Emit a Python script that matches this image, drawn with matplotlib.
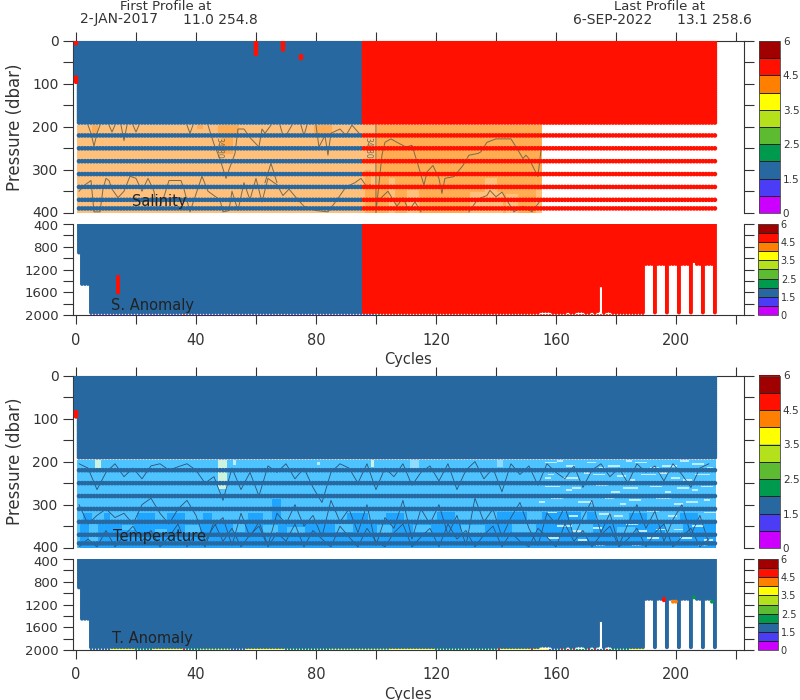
import numpy as np
import matplotlib
matplotlib.use("Agg")
import matplotlib.pyplot as plt
from matplotlib.cm import ScalarMappable
from matplotlib.colors import BoundaryNorm, ListedColormap
from matplotlib.transforms import ScaledTranslation

# flag colour scale shared by all four panels
flag_bounds = [0, 1, 1.5, 2, 2.5, 3, 3.5, 4, 4.5, 5, 6]
flag_colors = ['#CC00FF', '#4A3DF5', '#2868A0', '#009A4E', '#5CBB30',
               '#B5E01C', '#FFFF00', '#FF8000', '#FF1000', '#A00000']
flag_ticks = [0, 1.5, 2.5, 3.5, 4.5, 6]
GOOD, BAD, EDGE, GREEN, LIME, YELLOW, ORANGE, NAVY = 1.75, 4.75, 1.25, 2.25, 2.75, 3.75, 4.25, 1.75

n_cycles = 214
upper_levels = list(range(0, 195, 5))
sparse_levels = [220, 250, 280, 310, 340, 370, 390]
deep_levels = list(range(400, 1975, 25))

# (first cycle, last cycle + 1, deepest pressure) of the shorter profiles
short_profiles = [(0, 1, 400), (1, 2, 955), (2, 5, 1500), (175, 176, 1510),
                  (190, 214, 1150), (206, 207, 1085)]
full_depth_strips = [193, 197, 201, 205, 209, 213]
notch_cycles = [155, 156, 157, 158, 164, 167, 168, 169, 172, 174, 177, 178]

# isolated flags: cycle, top pressure, bottom pressure, flag
sal_upper_flags = [(0, 0, 5, BAD), (0, 85, 95, BAD), (60, 0, 33, BAD), (69, 0, 20, BAD), (75, 35, 40, BAD)]
temp_upper_flags = [(0, 85, 95, BAD)]
sal_deep_flags = [(14, 1310, 1620, BAD)]
temp_deep_flags = [(196, 1100, 1125, BAD), (206, 1060, 1075, GREEN), (199, 1140, 1150, ORANGE),
                   (200, 1140, 1150, ORANGE), (212, 1140, 1150, GREEN)]
sal_flip_cycle = 96

# thin strip along 2000 dbar: first cycle, last cycle + 1, flag
sal_bottom_strip = [(5, 36, EDGE), (36, 37, BAD), (37, 100, EDGE), (100, 102, GREEN), (102, 190, BAD)]
temp_bottom_strip = [(5, 12, GOOD), (12, 20, YELLOW), (20, 26, GREEN), (26, 36, YELLOW), (36, 37, BAD),
                     (37, 42, GREEN), (42, 52, LIME), (52, 57, NAVY), (57, 70, YELLOW), (70, 85, GREEN),
                     (85, 105, LIME), (105, 120, YELLOW), (120, 141, GREEN), (141, 142, BAD),
                     (142, 152, YELLOW), (152, 153, BAD), (153, 158, YELLOW), (158, 162, NAVY),
                     (162, 163, BAD), (163, 164, GREEN), (164, 165, BAD), (165, 166, GREEN), (166, 167, BAD),
                     (167, 171, GREEN), (171, 172, BAD), (172, 173, GREEN), (173, 174, BAD), (174, 177, NAVY),
                     (177, 178, BAD), (178, 185, GREEN), (185, 190, YELLOW)]

# background fields below 196 dbar
field_edges_p = list(range(196, 404, 4))
sal_field_colors = ['#FFC07C', '#FFAC52']
sal_field_end = 155
# first cycle, last cycle, top pressure, bottom pressure, shade
sal_patches = [(96, 155, 196, 400, 1), (5, 7, 196, 216, 1), (40, 42, 196, 205, 1), (47, 54, 196, 220, 1),
               (48, 52, 220, 262, 1), (79, 85, 196, 216, 1), (96, 100, 196, 300, 0), (98, 100, 300, 345, 0),
               (104, 106, 320, 400, 0), (110, 114, 350, 400, 0), (131, 142, 352, 400, 0),
               (136, 140, 320, 352, 0), (143, 147, 356, 400, 0), (153, 155, 350, 400, 0)]

temp_field_end = 213
temp_field_colors = ['#4DC3FF', '#1FA5FF', '#8FDCFF', '#CDF3DE', '#BDEBFF']
temp_patches = [(1, 213, 344, 400, 1),
                (2, 5, 320, 334, 1), (9, 11, 320, 334, 1), (20, 26, 320, 334, 1), (30, 36, 320, 334, 1),
                (42, 45, 320, 334, 1), (57, 62, 320, 334, 1), (65, 68, 290, 334, 1), (90, 97, 320, 334, 1),
                (103, 109, 320, 334, 1), (120, 126, 316, 334, 1), (140, 150, 318, 334, 1), (155, 168, 316, 339, 1),
                (170, 173, 316, 339, 1), (184, 190, 320, 339, 1), (201, 207, 322, 339, 1),
                (4, 7, 345, 390, 0), (15, 19, 350, 360, 0), (26, 30, 356, 366, 0), (36, 41, 350, 370, 0),
                (52, 56, 345, 362, 0), (62, 67, 350, 375, 0), (70, 76, 352, 372, 0), (86, 92, 345, 365, 0),
                (100, 105, 350, 372, 0), (112, 118, 348, 362, 0), (128, 136, 350, 372, 0),
                (145, 153, 346, 364, 0), (165, 172, 346, 368, 0), (180, 186, 352, 372, 0), (196, 202, 346, 370, 0),
                (6, 8, 196, 214, 3), (47, 50, 196, 262, 3), (80, 81, 200, 206, 4), (98, 99, 196, 210, 3),
                (52, 53, 196, 206, 4), (111, 114, 196, 214, 2), (140, 142, 196, 212, 2)]
# pale streaks after cycle 155: first cycle, last cycle, pressure
temp_streaks = [(156, 160, 204), (163, 166, 212), (170, 173, 204), (177, 181, 210), (186, 190, 204), (195, 200, 212),
                (205, 209, 206), (157, 159, 232), (162, 167, 238), (172, 176, 230), (180, 183, 236), (188, 193, 232),
                (198, 201, 238), (206, 211, 230), (156, 161, 258), (165, 168, 264), (173, 177, 256), (182, 187, 262),
                (191, 195, 258), (200, 204, 264), (208, 212, 258), (158, 162, 288), (167, 172, 294), (176, 179, 286),
                (184, 188, 292), (193, 198, 288), (203, 207, 294), (157, 160, 318), (174, 178, 322), (190, 194, 316),
                (209, 213, 320), (160, 165, 350), (172, 175, 356), (183, 187, 348), (193, 196, 358), (205, 209, 352),
                (157, 161, 378), (167, 170, 382), (178, 182, 376), (190, 194, 380), (201, 205, 378), (209, 212, 384),
                (160, 162, 200), (174, 176, 216), (183, 185, 200), (191, 194, 216), (201, 204, 200), (210, 212, 214),
                (156, 158, 240), (169, 171, 226), (184, 186, 242), (194, 197, 226), (202, 205, 244), (163, 165, 268),
                (178, 181, 270), (196, 198, 270), (205, 207, 266), (154, 156, 296), (181, 183, 298), (199, 202, 300),
                (209, 211, 292), (164, 167, 326), (179, 182, 326), (197, 200, 328), (165, 168, 362), (187, 190, 364),
                (199, 202, 360), (162, 164, 392), (173, 176, 394), (185, 188, 394), (196, 199, 392), (207, 210, 394)]

# contour traces, read by eye
sal_line_cycles = [4, 5, 6, 7, 8, np.nan, 11, 12, 13, np.nan, 15, 16, 17, np.nan, 19, 20, 21, np.nan,
                   37, 38, 39, np.nan, 44, 46, 48, 50, 51, 53, 54, 56, 58, 61, 62, 63, 65, np.nan,
                   63, 65, 67, np.nan, 68, 69, 70, 72, np.nan, 75, 76, 77, np.nan, 80, 81, 83, 84, 85, 88, 90, 92, 95,
                   np.nan,
                   1, 3, 5, 6, 8, 9, 10, 11, 12, 14, 16, 18, 20, 22, 24, 26, 27, 29, 31, 35, 36, 38, 42, 44, 46, 48,
                   49, 51, 52, 54, 56, 58, 60, 62, 64, 67, 69, 71, 74, 76, 80, 84, 87, 90, 93, 95, 97, 98,
                   np.nan,
                   100, 100, 102, 103, 105, 107, 110, 112, 114, 116, 117, 119, 121, 122, 123, 126, 129, 131, 134, 135,
                   137, 140, 143, 145, 147, 149, 150, 151, 154, 155,
                   np.nan,
                   101, 104, 107, 109, 111, 113, 115, np.nan, 131, 134, 137, 138, 140, 142, 144, 146, 149, 152, 155]
sal_line_press = [196, 215, 245, 215, 196, np.nan, 196, 212, 196, np.nan, 196, 232, 196, np.nan, 196, 212, 196, np.nan,
                  196, 215, 196, np.nan, 196, 240, 275, 320, 300, 262, 205, 205, 225, 247, 205, 215, 196, np.nan,
                  330, 285, 330, np.nan, 196, 220, 220, 196, np.nan, 196, 220, 196, np.nan, 196, 247, 220, 266, 215,
                  205, 220, 196, 220,
                  np.nan,
                  350, 335, 325, 398, 398, 345, 320, 325, 345, 365, 350, 315, 320, 350, 320, 350, 395, 370, 325, 325,
                  345, 398, 315, 350, 360, 370, 398, 395, 350, 395, 330, 370, 320, 375, 320, 335, 360, 345, 370, 385,
                  395, 398, 370, 340, 330, 320, 340, 335,
                  np.nan,
                  196, 400, 266, 236, 228, 236, 247, 243, 288, 336, 305, 290, 320, 355, 320, 316, 290, 266, 262, 258,
                  236, 228, 228, 228, 250, 274, 266, 274, 316, 255,
                  np.nan,
                  370, 350, 385, 365, 395, 375, 398, np.nan, 398, 368, 360, 348, 363, 352, 375, 398, 385, 398, 370]

temp_line_cycles = list(range(1, 215, 3))
temp_upper_press = [205, 215, 265, 225, 205, 235, 215, 240, 210, 205, 220, 212, 205, 220, 250, 235, 290, 215,
                    265, 225, 280, 210, 225, 205, 240, 215, 260, 295, 225, 205, 215, 250, 205, 265,
                    215, 235, 205, 255, 225, 210, 245, 205, 265, 220, 200, 240, 215, 270, 205, 230,
                    210, 255, 205, 225, 240, 210, 260, 220, 205, 235, 215, 250, 205, 225, 210, 245,
                    205, 230, 260, 215, 205, 235]
temp_lower_press = [300, 345, 325, 310, 330, 320, 345, 300, 285, 320, 345, 310, 290, 325, 385, 350, 330, 395,
                    320, 375, 340, 395, 320, 345, 300, 350, 325, 375, 290, 340, 310, 365, 300, 395,
                    330, 355, 290, 380, 310, 345, 300, 370, 325, 395, 285, 340, 310, 375, 330, 295,
                    355, 395, 320, 345, 305, 375, 330, 290, 365, 320, 395, 345, 300, 355, 315, 385,
                    335, 300, 370, 325, 390, 340]
temp_bottom_press = [398, 380, 398, 360, 398, 372, 350, 385, 360, 398, 375, 345, 398, 365, 398, 340, 385, 355,
                     398, 370, 350, 398, 365, 385, 345, 398, 360, 380, 398, 350, 375, 398, 355, 385,
                     398, 365, 345, 398, 375, 355, 398, 345, 380, 360, 398, 370, 350, 398, 365, 385,
                     398, 355, 375, 398, 345, 385, 360, 398, 370, 350, 398, 380, 355, 398, 365, 345,
                     398, 375, 355, 398, 380, 398]

x_ticks = list(range(0, 221, 20))
x_labels = ['0', '', '40', '', '80', '', '120', '', '160', '', '200', '']
upper_ticks = list(range(0, 401, 50))
upper_labels = ['0', '', '100', '', '200', '', '300', '', '400']
deep_ticks = list(range(400, 2001, 200))
deep_labels = ['400', '', '800', '', '1200', '', '1600', '', '2000']

TEXT = '#333333'
LINE = '#333333'
plt.rcParams['font.family'] = 'DejaVu Sans'
cmap = ListedColormap(flag_colors)
norm = BoundaryNorm(flag_bounds, cmap.N)

fig = plt.figure(figsize=(8, 7), dpi=100)


def pixel_axes(left, top, right, bottom):
    return fig.add_axes([left / 800, 1 - bottom / 700, (right - left) / 800, (bottom - top) / 700])


def flag_scatter(ax, xs, ys, flags, size):
    flags = np.array(flags)
    order = np.argsort(flags, kind='stable')
    ax.scatter(np.array(xs)[order], np.array(ys)[order], c=flags[order], s=size,
               cmap=cmap, norm=norm, linewidths=0, zorder=4)


def style_axes(ax, ylim, yticks, ylabels, top):
    ax.set_xlim(-1.1, 222.7)
    ax.set_ylim(*ylim)
    ax.set_xticks(x_ticks)
    ax.set_yticks(yticks)
    ax.set_yticklabels(ylabels, fontsize=10 if top else 9.5, color=TEXT)
    ax.tick_params(axis='y', which='both', left=True, right=True, length=7.2, width=0.8, color=LINE, pad=3)
    for name in ax.spines:
        ax.spines[name].set_color(LINE)
        ax.spines[name].set_linewidth(0.8)
    if top:
        ax.xaxis.tick_top()
        ax.spines['bottom'].set_visible(False)
        ax.set_xticklabels([])
    else:
        ax.spines['top'].set_visible(False)
        ax.set_xticklabels(x_labels, fontsize=10.5, color=TEXT)
    ax.tick_params(axis='x', length=6.5, width=0.8, color=LINE, pad=6)
    # pull the two stacked "400" labels a little apart
    edge_label = ax.get_yticklabels()[-1 if top else 0]
    nudge = ScaledTranslation(0, (1.5 if top else -1.5) / 100, fig.dpi_scale_trans)
    edge_label.set_transform(edge_label.get_transform() + nudge)


def add_colorbar(left, top, right, bottom, fontsize):
    cax = pixel_axes(left, top, right, bottom)
    cb = fig.colorbar(ScalarMappable(norm=norm, cmap=cmap), cax=cax, spacing='uniform',
                      drawedges=True, ticks=flag_ticks)
    cb.ax.set_yticklabels([str(t) for t in flag_ticks], fontsize=fontsize, color=TEXT)
    cb.ax.tick_params(length=0, pad=2)
    cb.dividers.set_color('#222222')
    cb.dividers.set_linewidth(0.7)
    cb.outline.set_edgecolor('#444444')
    cb.outline.set_linewidth(0.6)
    cb.minorticks_off()


def upper_points(flip_cycle, flags):
    xs, ys, fs = [], [], []
    for c in range(n_cycles):
        base = BAD if flip_cycle is not None and c >= flip_cycle else GOOD
        for p in upper_levels:
            if c == 0 and p > 90:
                continue
            xs.append(c), ys.append(p), fs.append(base)
        if c > 0:
            for p in sparse_levels:
                xs.append(c), ys.append(p), fs.append(base)
    for c, p0, p1, f in flags:
        for p in upper_levels:
            if p0 <= p <= p1:
                xs.append(c), ys.append(p), fs.append(f)
    return xs, ys, fs


def deep_points(flip_cycle, flags):
    bottoms = {c: 2000 for c in range(n_cycles)}
    for c0, c1, p in short_profiles:
        for c in range(c0, c1):
            bottoms[c] = p
    for c in full_depth_strips:
        bottoms[c] = 2000
    for c in notch_cycles:
        bottoms[c] = 1975
    xs, ys, fs = [], [], []
    for c in range(1, n_cycles):
        base = BAD if flip_cycle is not None and c >= flip_cycle else GOOD
        for p in deep_levels:
            if p <= bottoms[c] - 35:
                xs.append(c), ys.append(p), fs.append(base)
    for c, p0, p1, f in flags:
        for p in deep_levels:
            if p0 <= p <= p1:
                xs.append(c), ys.append(p), fs.append(f)
    return xs, ys, fs


def bottom_strip(ax, segments):
    xs, ys, fs = [], [], []
    for c0, c1, f in segments:
        for c in range(c0, c1):
            xs.append(c), ys.append(1998), fs.append(f)
    flag_scatter(ax, xs, ys, fs, 2.5)


def field_grid(n_col, base, patches, streaks=()):
    grid = np.full((len(field_edges_p) - 1, n_col), base, dtype=float)
    centers = np.array(field_edges_p[:-1]) + 2
    for c0, c1, p0, p1, v in patches:
        grid[(centers >= p0) & (centers <= p1), c0:c1] = v
    for c0, c1, p in streaks:
        grid[np.argmin(np.abs(centers - p)), c0:c1] = 4
    return grid


# Salinity, top panel
ax1 = pixel_axes(72.7, 41, 744, 212.7)
style_axes(ax1, (400, 0), upper_ticks, upper_labels, True)
sal_grid = field_grid(sal_field_end, 0, sal_patches)
ax1.pcolormesh(np.arange(sal_field_end + 1) + 0.3, field_edges_p, sal_grid, shading='flat',
               cmap=ListedColormap(sal_field_colors), vmin=0, vmax=1, zorder=1)
ax1.plot(sal_line_cycles, sal_line_press, color='#7A6A4A', lw=0.7, zorder=3)
ax1.text(47.5, 250, '34.80', rotation=-90, fontsize=5.5, color='#7A6A4A', ha='center', va='center', zorder=3)
ax1.text(97.3, 250, '34.80', rotation=-90, fontsize=5.5, color='#7A6A4A', ha='center', va='center', zorder=3)
flag_scatter(ax1, *upper_points(sal_flip_cycle, sal_upper_flags), 11)
ax1.text(27.7, 375, 'Salinity', fontsize=10.5, color='#222222', ha='center', va='center', zorder=5)
ax1.set_ylabel('Pressure (dbar)', fontsize=12, color=TEXT, labelpad=6)

# Salinity anomaly
ax2 = pixel_axes(72.7, 224, 744, 315.3)
style_axes(ax2, (2000, 400), deep_ticks, deep_labels, False)
flag_scatter(ax2, *deep_points(sal_flip_cycle, sal_deep_flags), 8)
bottom_strip(ax2, sal_bottom_strip)
ax2.text(25.5, 1837, 'S. Anomaly', fontsize=10.5, color='#222222', ha='center', va='center', zorder=5)
ax2.set_xlabel('Cycles', fontsize=10.5, color=TEXT, labelpad=3)

# Temperature
ax3 = pixel_axes(72.7, 375.5, 744, 547.7)
style_axes(ax3, (400, 0), upper_ticks, upper_labels, True)
temp_grid = field_grid(temp_field_end, 0, temp_patches, temp_streaks)
ax3.pcolormesh(np.arange(temp_field_end + 1) + 0.3, field_edges_p, temp_grid, shading='flat',
               cmap=ListedColormap(temp_field_colors), vmin=0, vmax=4, zorder=1)
for press in (temp_upper_press, temp_lower_press, temp_bottom_press):
    ax3.plot(temp_line_cycles[:-1], press[:-1], color='#2F4F6F', lw=0.6, zorder=3)
flag_scatter(ax3, *upper_points(None, temp_upper_flags), 11)
ax3.text(27.7, 375, 'Temperature', fontsize=10.5, color='#222222', ha='center', va='center', zorder=5)
ax3.set_ylabel('Pressure (dbar)', fontsize=12, color=TEXT, labelpad=6)

# Temperature anomaly
ax4 = pixel_axes(72.7, 559, 744, 650)
style_axes(ax4, (2000, 400), deep_ticks, deep_labels, False)
flag_scatter(ax4, *deep_points(None, temp_deep_flags), 8)
bottom_strip(ax4, temp_bottom_strip)
ax4.text(25.5, 1806, 'T. Anomaly', fontsize=10.5, color='#222222', ha='center', va='center', zorder=5)
ax4.set_xlabel('Cycles', fontsize=10.5, color=TEXT, labelpad=3)

add_colorbar(759, 41, 780, 213, 7.5)
add_colorbar(758, 224, 778, 315, 7)
add_colorbar(759, 375.5, 780, 548, 7.5)
add_colorbar(758, 559, 778, 650, 7)

fig.text(166 / 800, 1 - 7 / 700, 'First Profile at', fontsize=9.5, color=TEXT, ha='center', va='center')
fig.text(80 / 800, 1 - 19.5 / 700, '2-JAN-2017', fontsize=10, color=TEXT, ha='left', va='center')
fig.text(258 / 800, 1 - 19.5 / 700, '11.0 254.8', fontsize=10, color=TEXT, ha='right', va='center')
fig.text(660 / 800, 1 - 7 / 700, 'Last Profile at', fontsize=9.5, color=TEXT, ha='center', va='center')
fig.text(573 / 800, 1 - 19.5 / 700, '6-SEP-2022', fontsize=10, color=TEXT, ha='left', va='center')
fig.text(752 / 800, 1 - 19.5 / 700, '13.1 258.6', fontsize=10, color=TEXT, ha='right', va='center')

fig.savefig('out.png', dpi=100)
